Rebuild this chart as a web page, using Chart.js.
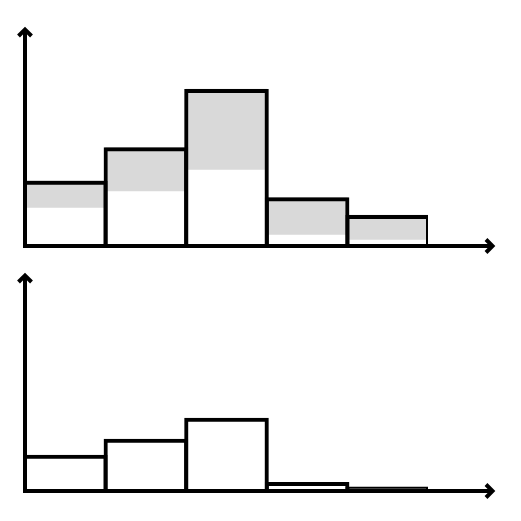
<!DOCTYPE html>
<html>
<head>
<meta charset="utf-8">
<script src="https://cdn.jsdelivr.net/npm/chart.js@4"></script>
<style>
    html, body { margin: 0; padding: 0; background: #fff; }
    .wrap { position: relative; width: 521px; }
    canvas { display: block; }
</style>
</head>
<body>
<div class="wrap" style="height:260px"><canvas id="top-chart"></canvas></div>
<div class="wrap" style="height:261px"><canvas id="bottom-chart"></canvas></div>
<script>
// histogram bins
const bins = ['1', '2', '3', '4', '5'];
// top panel: full bar heights and the white lower part
const topTotals = [65.3, 98.7, 157, 48.7, 31];
const topLower = [38, 54.3, 76, 11, 6];
// bottom panel: bar heights
const bottomValues = [36.5, 52.5, 73.5, 9, 4.5];

const yMax = 218;
const axisOverhang = 66; // how far the x arrow runs past the last bin
const lineW = 4;

// draws the two axis lines with open arrow heads
const arrowAxes = {
    id: 'arrowAxes',
    afterDraw(chart) {
        const { ctx, chartArea } = chart;
        const { left, right, top, bottom } = chartArea;
        const tipX = right + axisOverhang;
        ctx.save();
        ctx.strokeStyle = '#000';
        ctx.lineWidth = lineW;
        ctx.lineCap = 'butt';
        ctx.lineJoin = 'miter';

        ctx.beginPath();
        ctx.moveTo(left, bottom + lineW / 2);
        ctx.lineTo(left, top + 1);
        ctx.moveTo(left - 6.5, top + 8);
        ctx.lineTo(left, top + 1.5);
        ctx.lineTo(left + 6.5, top + 8);
        ctx.stroke();

        ctx.beginPath();
        ctx.moveTo(left - lineW / 2, bottom);
        ctx.lineTo(tipX - 1, bottom);
        ctx.moveTo(tipX - 8, bottom - 6.5);
        ctx.lineTo(tipX - 1.5, bottom);
        ctx.lineTo(tipX - 8, bottom + 6.5);
        ctx.stroke();
        ctx.restore();
    }
};

function makeChart(id, datasets, padding) {
    const ctx = document.getElementById(id).getContext('2d');
    return new Chart(ctx, {
        type: 'bar',
        data: { labels: bins, datasets },
        options: {
            responsive: true,
            maintainAspectRatio: false,
            animation: false,
            events: [],
            layout: { padding },
            plugins: { legend: { display: false }, tooltip: { enabled: false } },
            scales: {
                x: { display: false },
                y: { min: 0, max: yMax, display: false }
            }
        },
        plugins: [arrowAxes]
    });
}

// outline bars are a border wider so the border sits centred on the bin edge
const outline = (values) => ({
    data: values,
    backgroundColor: 'rgba(0,0,0,0)',
    borderColor: '#000',
    borderWidth: lineW,
    borderSkipped: 'start',
    barPercentage: (80.6 + lineW) / 80.6,
    categoryPercentage: 1,
    grouped: false,
    order: 0
});

const fill = (values, color, order) => ({
    data: values,
    backgroundColor: color,
    borderWidth: 0,
    barPercentage: 1,
    categoryPercentage: 1,
    grouped: false,
    order
});

makeChart('top-chart', [
    outline(topTotals),
    fill(topLower, '#ffffff', 1),
    fill(topTotals, '#d9d9d9', 2)
], { left: 25, right: 93, top: 28, bottom: 14 });

makeChart('bottom-chart', [
    outline(bottomValues),
    fill(bottomValues, '#ffffff', 1)
], { left: 25, right: 93, top: 14, bottom: 30 });
</script>
</body>
</html>
